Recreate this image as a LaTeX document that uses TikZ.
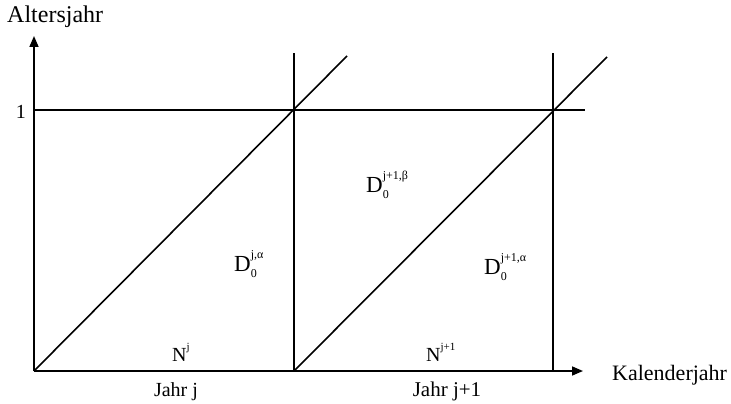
\documentclass[tikz,border=0pt]{standalone}
\usepackage{fontspec}
\setmainfont{Liberation Serif}
\usetikzlibrary{arrows.meta}
\newcommand{\Dlab}[1]{D\makebox[0pt][l]{\raisebox{-0.3em}{\fontsize{12}{12}\selectfont 0}}\raisebox{0.55em}{\fontsize{12}{12}\selectfont #1}}
\newcommand{\Nlab}[1]{N\raisebox{0.55em}{\fontsize{11}{11}\selectfont #1}}
\begin{document}
\begin{tikzpicture}[x=1pt,y=-1pt,
  ln/.style={line width=1.6pt, black},
  ax/.style={line width=1.6pt, -{Triangle[length=11pt,width=9pt]}},
  lbl/.style={inner sep=0pt, font=\fontsize{20}{24}\selectfont},
  dl/.style={inner sep=0pt, anchor=base west, font=\fontsize{23}{26}\selectfont}]
\useasboundingbox (0,0) rectangle (731,404);
\coordinate (O) at (34,371);
\coordinate (Ytop) at (34,36);
\coordinate (Xend) at (583,371);
\coordinate (A) at (294,110);
\coordinate (B) at (553,110);
\coordinate (P) at (294,371);
\coordinate (Q) at (553,371);
\coordinate (H0) at (34,110);
\coordinate (Hend) at (585,110);
\coordinate (V1top) at (294,53);
\coordinate (V2top) at (553,53);
\coordinate (D1end) at (347,56);
\coordinate (D2end) at (607,57);
% axes
\draw[ax] (O) -- (Ytop);
\draw[ax] (O) -- (Xend);
% grid lines
\draw[ln] (H0) -- (Hend);
\draw[ln] (P) -- (V1top);
\draw[ln] (Q) -- (V2top);
\draw[ln] (O) -- (D1end);
\draw[ln] (P) -- (D2end);
% labels
\node[lbl, anchor=base west, font=\fontsize{24}{28}\selectfont] (ylab) at (7,23) {Altersjahr};
\node[lbl, anchor=base east] (one) at (26,118) {1};
\node[lbl, anchor=base west, font=\fontsize{22}{26}\selectfont] (xlab) at (612,380) {Kalenderjahr};
\node[lbl, anchor=base] (j1) at (176,396) {Jahr j};
\node[lbl, anchor=base, font=\fontsize{21}{25}\selectfont] (j2) at (447,396) {Jahr j+1};
\node[lbl, anchor=base west] (n1) at (172,361) {\Nlab{j}};
\node[lbl, anchor=base west] (n2) at (426,361) {\Nlab{j+1}};
\node[dl] (d1) at (234,271) {\Dlab{j,α}};
\node[dl] (d2) at (366,192) {\Dlab{j+1,β}};
\node[dl] (d3) at (484,274) {\Dlab{j+1,α}};
\end{tikzpicture}
\end{document}
